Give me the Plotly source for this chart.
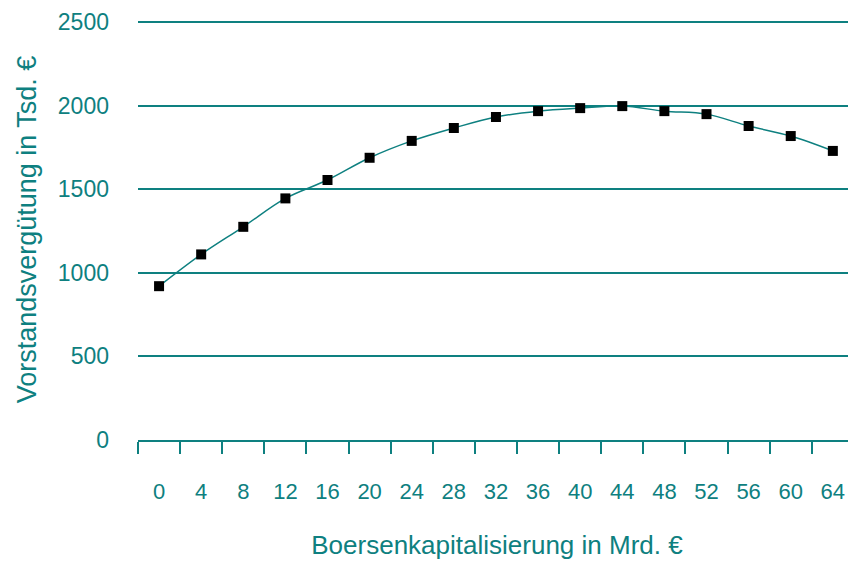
import plotly.graph_objects as go

categories = ["0", "4", "8", "12", "16", "20", "24", "28", "32", "36", "40", "44", "48", "52", "56", "60", "64"]
values = [920, 1110, 1275, 1445, 1555, 1688, 1789, 1866, 1932, 1967, 1985, 1997, 1967, 1949, 1878, 1818, 1729]
y_ticks = [0, 500, 1000, 1500, 2000, 2500]

teal = "#0e8080"
font_family = "Liberation Sans Narrow, Arial Narrow, Liberation Sans, sans-serif"

fig = go.Figure()
fig.add_trace(go.Scatter(
    x=categories, y=values, mode="lines+markers",
    line=dict(color=teal, width=1.5, shape="spline"),
    marker=dict(symbol="square", size=10, color="black"),
    showlegend=False,
    cliponaxis=False,
))

fig.update_layout(
    width=848, height=557,
    margin=dict(l=130, r=0, t=11, b=125),
    paper_bgcolor="white", plot_bgcolor="white",
    font=dict(family=font_family, color=teal, size=24),
    xaxis=dict(
        type="category", range=[-0.5, 16.55], automargin=False,
        showgrid=False, showline=True, linecolor=teal, linewidth=2,
        ticks="outside", tickson="boundaries", ticklen=12, tickcolor=teal, tickwidth=2,
        ticklabelstandoff=31,
        tickfont=dict(size=22, color=teal),
        title=dict(text="Boersenkapitalisierung in Mrd. €", font=dict(size=26, color=teal), standoff=32),
    ),
    yaxis=dict(
        range=[0, 2518], tickvals=y_ticks, ticktext=[str(v) for v in y_ticks], automargin=False,
        showgrid=True, gridcolor=teal, gridwidth=2,
        zeroline=False, showline=False, ticks="",
        ticklabelstandoff=28,
        tickfont=dict(size=23, color=teal),
        title=dict(text="Vorstandsvergütung in Tsd. €", font=dict(size=27, color=teal), standoff=13),
    ),
)

fig.write_html("out.html")
